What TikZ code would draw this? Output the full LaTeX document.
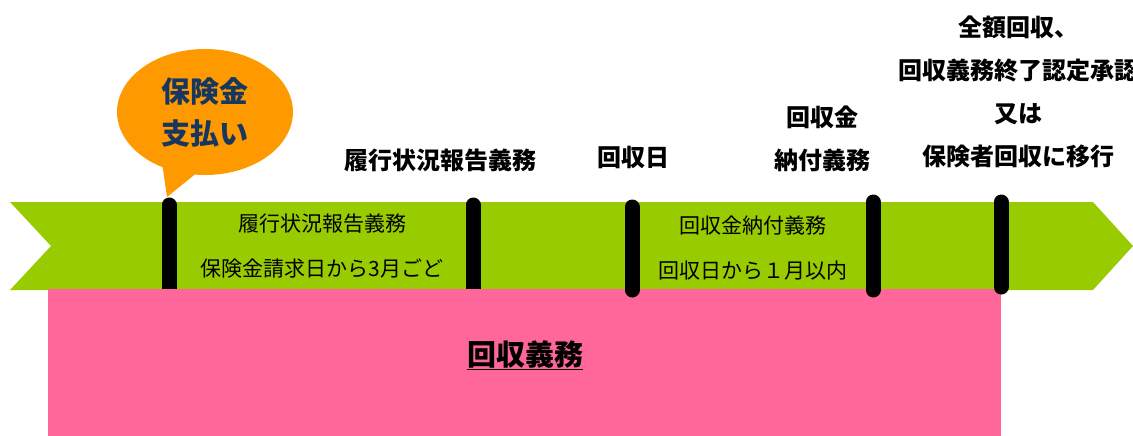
\documentclass[tikz,border=0pt]{standalone}
\usepackage{fontspec}
\setmainfont{Noto Sans CJK JP}
\usetikzlibrary{shapes.callouts}
\definecolor{bandgreen}{HTML}{99CC00}
\definecolor{dutypink}{HTML}{FF6699}
\definecolor{bubbleorange}{HTML}{FF9900}
\definecolor{bubblenavy}{HTML}{17375E}
\begin{document}
\begin{tikzpicture}[x=1pt, y=-1pt,
    toplabel/.style={font=\fontsize{24}{43}\selectfont\bfseries, align=center, inner sep=0pt},
    bandlabel/.style={font=\fontsize{21}{45}\selectfont, align=center, inner sep=0pt},
    marker/.style={line width=15pt, line cap=round}]
    \useasboundingbox (0,0) rectangle (1133,436);

    % timeline band
    \fill[bandgreen] (10,202) -- (1093,202) -- (1133,246) -- (1093,290)
        -- (10,290) -- (51,246) -- cycle;
    \draw[marker] (169,205) -- (169,296);
    \draw[marker] (473,205) -- (473,296);

    % recovery duty
    \fill[dutypink] (48,289) rectangle (1001,436);
    \node[font=\fontsize{29}{35}\selectfont\bfseries] (duty) at (525,355) {\underline{回収義務}};

    \draw[marker] (632,207) -- (632,290);
    \draw[marker] (873,202) -- (873,290);
    \draw[marker] (1001,202) -- (1001,287);

    % payment bubble
    \node[ellipse callout, fill=bubbleorange, minimum width=176, minimum height=126,
        inner sep=0pt, callout absolute pointer={(167,197)}, callout pointer arc=22,
        text=bubblenavy, font=\fontsize{29}{42}\selectfont\bfseries, align=center]
        (payment) at (205,112) {保険金\\支払い};

    % labels above the band
    \node[toplabel] (report) at (440,160) {履行状況報告義務};
    \node[toplabel] (recday) at (633,157) {回収日};
    \node[toplabel] (remit) at (822,139) {回収金\\納付義務};
    \node[toplabel] (finish) at (1018,92) {全額回収、\\回収義務終了認定承認\\又は\\保険者回収に移行};

    % labels inside the band
    \node[bandlabel] (reportterm) at (322,246) {履行状況報告義務\\保険金請求日から3月ごど};
    \node[bandlabel] (remitterm) at (753,248) {回収金納付義務\\回収日から１月以内};
\end{tikzpicture}
\end{document}
